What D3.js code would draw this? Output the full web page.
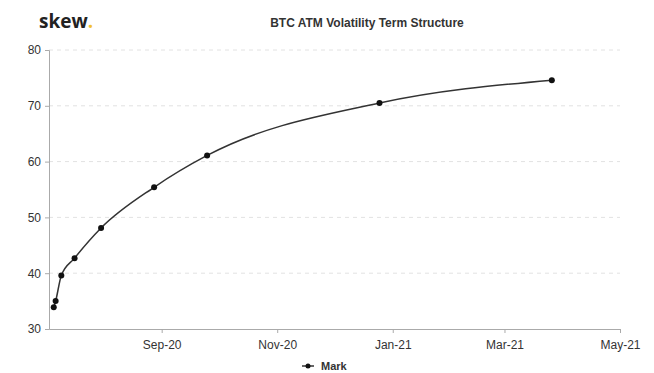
<!DOCTYPE html>
<html><head><meta charset="utf-8">
<script src="https://cdn.jsdelivr.net/npm/d3@7"></script>
<style>body{margin:0;background:#fff;}svg{display:block;font-family:"Liberation Sans",Arial,sans-serif;}</style>
</head><body>
<svg id="c" width="654" height="373"></svg>
<script>
const expiries = ["2020-07-06","2020-07-07","2020-07-10","2020-07-17","2020-07-31","2020-08-28","2020-09-25","2020-12-25","2021-03-26"];
const markVol = [33.9,35.0,39.6,42.7,48.1,55.4,61.1,70.5,74.6];
const yTicks = [30,40,50,60,70,80];
const xTicks = ["2020-09-01","2020-11-01","2021-01-01","2021-03-01","2021-05-01"];
const seriesName = "Mark";
const title = "BTC ATM Volatility Term Structure";

const parse = d3.utcParse("%Y-%m-%d");
const data = expiries.map((d,i)=>({date:parse(d), v:markVol[i]}));
const svg = d3.select("#c");
const L=49, R=620, T=50, B=329;
const x = d3.scaleUtc().domain([new Date(Date.UTC(2020,6,3,12)), parse("2021-05-01")]).range([L,R]);
const y = d3.scaleLinear().domain([30,80]).range([B,T]);

// grid
svg.append("g").selectAll("line").data(yTicks.filter(t=>t>30)).join("line")
  .attr("x1",L).attr("x2",R).attr("y1",d=>y(d)).attr("y2",d=>y(d))
  .attr("stroke","#e2e2e2").attr("stroke-dasharray","4,4").attr("stroke-width",1);

// y axis
const ya = svg.append("g").attr("transform",`translate(${L},0)`)
  .call(d3.axisLeft(y).tickValues(yTicks).tickSize(4).tickPadding(4));
ya.select(".domain").attr("stroke","#aaa");
ya.selectAll(".tick line").attr("stroke","#aaa");
ya.selectAll("text").attr("fill","#333").style("font-size","12px");

// x axis
const xa = svg.append("g").attr("transform",`translate(0,${B})`)
  .call(d3.axisBottom(x).tickValues(xTicks.map(parse)).tickFormat(d3.utcFormat("%b-%y")).tickSize(4).tickPadding(7).tickSizeOuter(0));
xa.select(".domain").attr("stroke","#aaa");
xa.selectAll(".tick line").attr("stroke","#aaa");
xa.selectAll("text").attr("fill","#333").style("font-size","12px");

// line
const line = d3.line().x(d=>x(d.date)).y(d=>y(d.v)).curve(d3.curveMonotoneX);
svg.append("path").datum(data).attr("d",line).attr("fill","none").attr("stroke","#333").attr("stroke-width",1.5);
svg.append("g").selectAll("circle").data(data).join("circle")
  .attr("cx",d=>x(d.date)).attr("cy",d=>y(d.v)).attr("r",3).attr("fill","#111");

// title
svg.append("text").attr("x",367).attr("y",27).attr("text-anchor","middle")
  .style("font-size","12px").style("font-weight","bold").attr("fill","#333").text(title);
// logo
const logo = svg.append("text").attr("x",39).attr("y",28).style("font-family","'Open Sans',sans-serif")
  .style("font-size","19px").style("font-weight","bold").attr("fill","#222");
logo.append("tspan").text("skew");
logo.append("tspan").attr("fill","#f2c230").text(".");

// legend
const lg = svg.append("g").attr("transform","translate(302,366)");
lg.append("line").attr("x1",0).attr("x2",12).attr("y1",0).attr("y2",0).attr("stroke","#333").attr("stroke-width",1.5);
lg.append("circle").attr("cx",6).attr("cy",0).attr("r",2.5).attr("fill","#111");
lg.append("text").attr("x",19).attr("y",4).style("font-size","11px").style("font-weight","bold").attr("fill","#333").text(seriesName);
</script>
</body></html>
